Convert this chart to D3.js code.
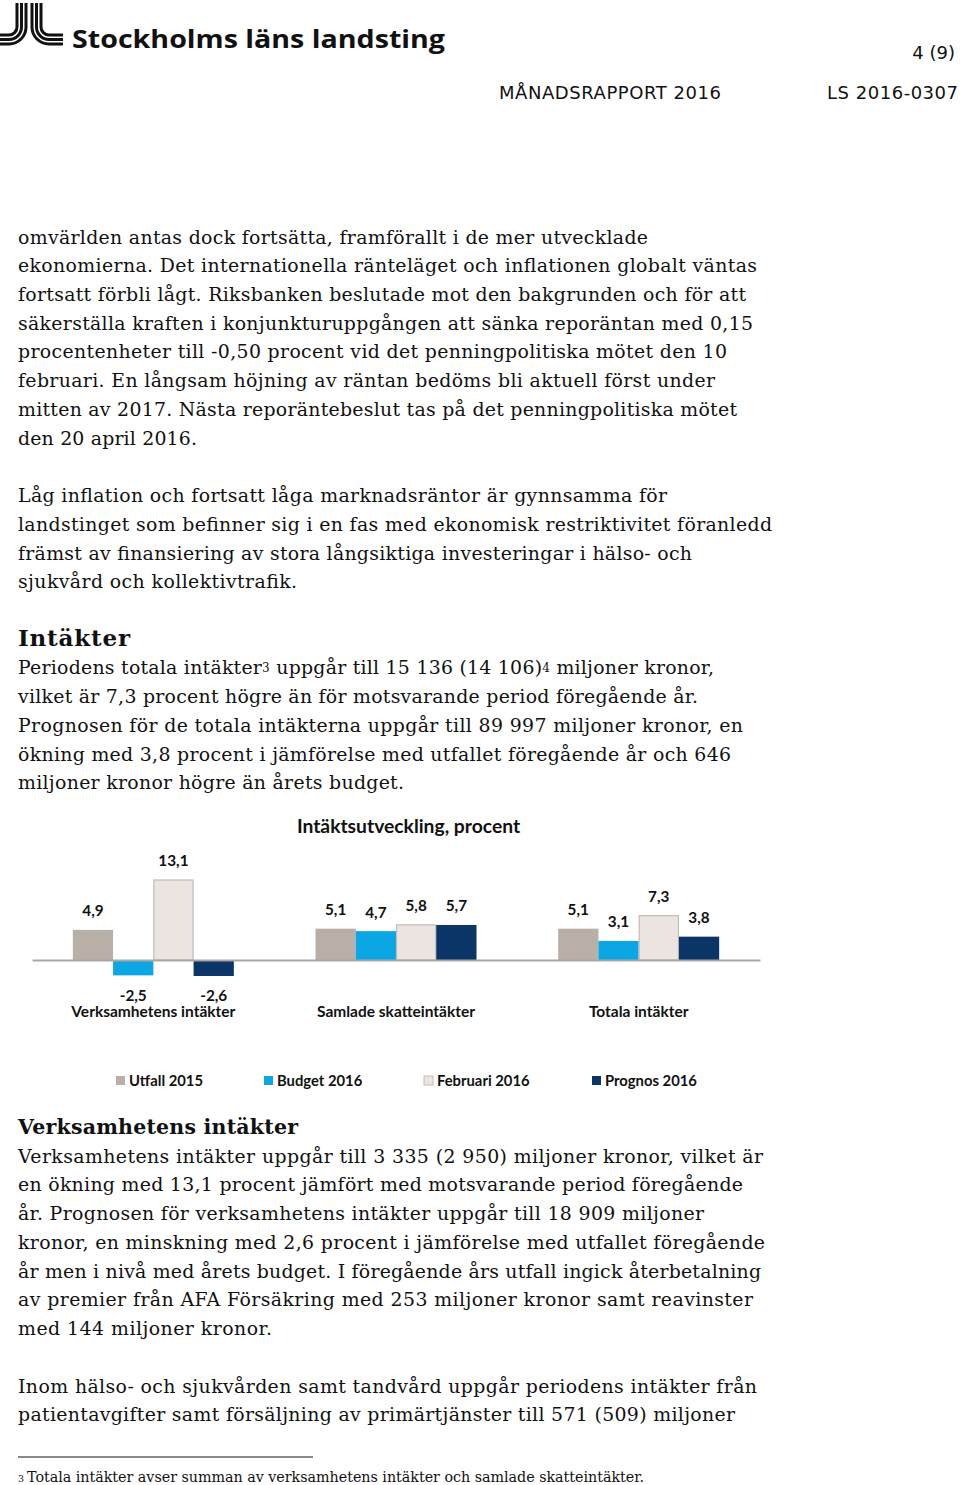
<!DOCTYPE html>
<html><head><meta charset="utf-8">
<script src="https://cdn.jsdelivr.net/npm/d3@7"></script>
<style>body{margin:0;background:#fff}svg{display:block}</style>
</head><body>
<script>
// ---------------- chart data ----------------
const categories = ["Verksamhetens intäkter", "Samlade skatteintäkter", "Totala intäkter"];
const seriesNames = ["Utfall 2015", "Budget 2016", "Februari 2016", "Prognos 2016"];
const utfall2015   = [4.9, 5.1, 5.1];
const budget2016   = [-2.5, 4.7, 3.1];
const februari2016 = [13.1, 5.8, 7.3];
const prognos2016  = [-2.6, 5.7, 3.8];
const chartTitle = "Intäktsutveckling, procent";

// ---------------- page text ----------------
const orgName = "Stockholms läns landsting";
const pageNo = "4 (9)";
const docTitle = "MÅNADSRAPPORT 2016";
const docId = "LS 2016-0307";
const para1 = [
  "omvärlden antas dock fortsätta, framförallt i de mer utvecklade",
  "ekonomierna. Det internationella ränteläget och inflationen globalt väntas",
  "fortsatt förbli lågt. Riksbanken beslutade mot den bakgrunden och för att",
  "säkerställa kraften i konjunkturuppgången att sänka reporäntan med 0,15",
  "procentenheter till -0,50 procent vid det penningpolitiska mötet den 10",
  "februari. En långsam höjning av räntan bedöms bli aktuell först under",
  "mitten av 2017. Nästa reporäntebeslut tas på det penningpolitiska mötet",
  "den 20 april 2016."];
const para2 = [
  "Låg inflation och fortsatt låga marknadsräntor är gynnsamma för",
  "landstinget som befinner sig i en fas med ekonomisk restriktivitet föranledd",
  "främst av finansiering av stora långsiktiga investeringar i hälso- och",
  "sjukvård och kollektivtrafik."];
const heading1 = "Intäkter";
const para3 = [
  "Periodens totala intäkter{3} uppgår till 15 136 (14 106){4} miljoner kronor,",
  "vilket är 7,3 procent högre än för motsvarande period föregående år.",
  "Prognosen för de totala intäkterna uppgår till 89 997 miljoner kronor, en",
  "ökning med 3,8 procent i jämförelse med utfallet föregående år och 646",
  "miljoner kronor högre än årets budget."];
const heading2 = "Verksamhetens intäkter";
const para4 = [
  "Verksamhetens intäkter uppgår till 3 335 (2 950) miljoner kronor, vilket är",
  "en ökning med 13,1 procent jämfört med motsvarande period föregående",
  "år. Prognosen för verksamhetens intäkter uppgår till 18 909 miljoner",
  "kronor, en minskning med 2,6 procent i jämförelse med utfallet föregående",
  "år men i nivå med årets budget. I föregående års utfall ingick återbetalning",
  "av premier från AFA Försäkring med 253 miljoner kronor samt reavinster",
  "med 144 miljoner kronor."];
const para5 = [
  "Inom hälso- och sjukvården samt tandvård uppgår periodens intäkter från",
  "patientavgifter samt försäljning av primärtjänster till 571 (509) miljoner"];
const footnoteMark = "3";
const footnote = "Totala intäkter avser summan av verksamhetens intäkter och samlade skatteintäkter.";

// ---------------- layout (not data) ----------------
const lineEnds1 = [648, 757, 746, 753, 727, 715, 737, 197];
const lineEnds2 = [667, 772, 692, 297];
const lineEnds3 = [714, 698, 743, 731, 404];
const lineEnds4 = [763, 743, 704, 765, 761, 753, 272];
const lineEnds5 = [757, 735];
const colors = ["#b8afa7", "#0ba7e5", "#ece4e0", "#0b3567"];
const strokes = [null, null, "#c4bbb5", null];

const W = 960, H = 1485;
const svg = d3.select("body").append("svg").attr("width", W).attr("height", H);

// ---- logo ----
const logo = svg.append("g").attr("fill", "none").attr("stroke", "#111").attr("stroke-width", 3);
[0, 1, 2].forEach(i => {
  const xl = 17 + 4.5 * i, rl = 8 + 4.5 * i;
  logo.append("path").attr("d", `M${xl},3V27A${rl},${rl} 0 0 1 9,${27 + rl}H0`);
  const xr = 41 - 4.5 * i, rr = 8 + 4.5 * i;
  logo.append("path").attr("d", `M${xr},3V27A${rr},${rr} 0 0 0 49,${27 + rr}H63`);
});
svg.append("text").attr("x", 72).attr("y", 48).attr("textLength", 373).attr("lengthAdjust", "spacingAndGlyphs")
  .style("font-family", "'Open Sans', sans-serif").style("font-weight", 700).style("font-size", "25px")
  .attr("fill", "#111").text(orgName);

const sansHdr = "'DejaVu Sans', Verdana, sans-serif";
svg.append("text").attr("x", 955).attr("y", 59).attr("text-anchor", "end")
  .style("font-family", sansHdr).style("font-size", "18px").attr("fill", "#111").text(pageNo);
svg.append("text").attr("x", 499).attr("y", 99).attr("textLength", 222)
  .style("font-family", sansHdr).style("font-size", "18px").attr("fill", "#111").text(docTitle);
svg.append("text").attr("x", 827).attr("y", 99).attr("textLength", 131)
  .style("font-family", sansHdr).style("font-size", "18px").attr("fill", "#111").text(docId);

// ---- body text ----
const serif = "'DejaVu Serif', Georgia, serif";
const step = 28.73;
function writeLines(lines, ends, y0) {
  lines.forEach((ln, i) => {
    const t = svg.append("text").attr("x", 18).attr("y", y0 + i * step)
      .attr("textLength", ends[i] - 18).attr("lengthAdjust", "spacing")
      .style("font-family", serif).style("font-size", "18.9px").attr("fill", "#111");
    ln.split(/(\{\d\})/).forEach(seg => {
      if (!seg) return;
      const m = seg.match(/^\{(\d)\}$/);
      if (m) t.append("tspan").style("font-size", "12px").attr("baseline-shift", "2").text(m[1]);
      else t.append("tspan").text(seg);
    });
  });
}
const g0 = 243.5;
writeLines(para1, lineEnds1, g0);
writeLines(para2, lineEnds2, g0 + 9 * step);
svg.append("text").attr("x", 18).attr("y", g0 + 14 * step).attr("textLength", 112)
  .style("font-family", serif).style("font-weight", 700).style("font-size", "23px").attr("fill", "#111").text(heading1);
writeLines(para3, lineEnds3, g0 + 15 * step);

const h2y = 1134;
svg.append("text").attr("x", 18).attr("y", h2y).attr("textLength", 280)
  .style("font-family", serif).style("font-weight", 700).style("font-size", "20.5px").attr("fill", "#111").text(heading2);
writeLines(para4, lineEnds4, h2y + step);
writeLines(para5, lineEnds5, h2y + 9 * step);

// footnote
svg.append("line").attr("x1", 18).attr("x2", 313).attr("y1", 1457).attr("y2", 1457)
  .attr("stroke", "#111").attr("stroke-width", 1);
const fn = svg.append("text").attr("x", 18).attr("y", 1482)
  .style("font-family", serif).style("font-size", "14.3px").attr("fill", "#111");
fn.append("tspan").style("font-size", "9.5px").text(footnoteMark);
fn.append("tspan").attr("x", 27).attr("textLength", 617).text(footnote);

// ---------------- chart ----------------
const cf = "Lato, 'Open Sans', sans-serif";
const series = [utfall2015, budget2016, februari2016, prognos2016];
const rows = categories.map((c, ci) => ({cat: c, vals: series.map((s, si) => ({key: seriesNames[si], si, v: s[ci]}))}));

const x0 = d3.scaleBand().domain(categories).range([32, 760]).padding(0);
const bw = x0.bandwidth();
const groupW = 161;
const x1 = d3.scaleBand().domain(seriesNames).range([(bw - groupW) / 2, (bw + groupW) / 2]).padding(0);
const y = d3.scaleLinear().domain([-5, 15]).range([960 + 5 * 6.145, 960 - 15 * 6.145]);
const loc = d3.formatLocale({decimal: ",", thousands: " ", grouping: [3], currency: ["", ""], minus: "-"});
const fmt = loc.format(".1f");

svg.append("text").attr("x", 408.5).attr("y", 833).attr("text-anchor", "middle")
  .style("font-family", cf).style("font-weight", 700).style("font-size", "19.3px").attr("fill", "#111").text(chartTitle);

const groups = svg.selectAll("g.grp").data(rows).join("g").attr("class", "grp")
  .attr("transform", d => `translate(${x0(d.cat)},0)`);
groups.selectAll("rect").data(d => d.vals).join("rect")
  .attr("x", d => x1(d.key) + (strokes[d.si] ? 0.5 : 0))
  .attr("width", d => x1.bandwidth() - (strokes[d.si] ? 1 : 0))
  .attr("y", d => y(Math.max(0, d.v)) + (strokes[d.si] ? 0.5 : 0))
  .attr("height", d => Math.abs(y(d.v) - y(0)) - (strokes[d.si] ? 0.5 : 0))
  .attr("fill", d => colors[d.si])
  .attr("stroke", d => strokes[d.si] || "none").attr("stroke-width", 1.2);
groups.selectAll("text.lbl").data(d => d.vals).join("text").attr("class", "lbl")
  .attr("x", d => x1(d.key) + x1.bandwidth() / 2)
  .attr("y", d => d.v >= 0 ? y(d.v) - 13.5 : y(d.v) + 25.5)
  .attr("text-anchor", "middle")
  .style("font-family", cf).style("font-weight", 700).style("font-size", "15.3px").attr("fill", "#111")
  .text(d => fmt(d.v));

const axis = d3.axisBottom(x0).tickSize(0).tickSizeOuter(0).tickPadding(46);
const ax = svg.append("g").attr("transform", "translate(0,960)").call(axis);
ax.select(".domain").attr("stroke", "#aca5a0").attr("stroke-width", 2);
ax.selectAll(".tick text").style("font-family", cf).style("font-weight", 700).style("font-size", "15.5px").attr("fill", "#111");

// legend
const legX = [116, 264, 424, 592];
const leg = svg.selectAll("g.leg").data(seriesNames).join("g").attr("class", "leg")
  .attr("transform", (d, i) => `translate(${legX[i]},1076)`);
leg.append("rect").attr("width", 9).attr("height", 9)
  .attr("fill", (d, i) => colors[i]).attr("stroke", (d, i) => strokes[i] || "none");
leg.append("text").attr("x", 13).attr("y", 9.5)
  .style("font-family", cf).style("font-weight", 700).style("font-size", "14.8px").attr("fill", "#111").text(d => d);
</script>
</body></html>
